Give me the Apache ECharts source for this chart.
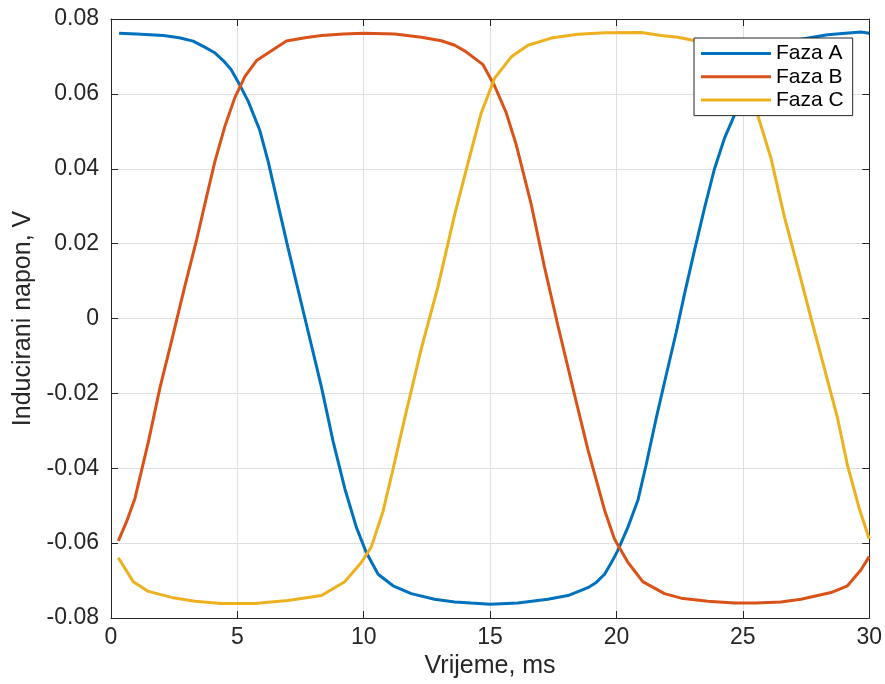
<!DOCTYPE html>
<html>
<head>
<meta charset="utf-8">
<script src="https://cdn.jsdelivr.net/npm/echarts@6/dist/echarts.min.js"></script>
<style>
html,body{margin:0;padding:0;background:#fff;}
#chart{width:885px;height:684px;}
</style>
</head>
<body>
<div id="chart"></div>
<script>
// ---- data (time in ms, voltage in V) ----
const seriesNames = ['Faza A', 'Faza B', 'Faza C'];

const tA = [0.32, 1.0, 2.07, 2.7, 3.25, 3.71, 4.1, 4.44, 4.75, 5.03, 5.43, 5.89, 6.22, 6.61, 7.0, 7.32, 7.74, 8.33, 8.79, 9.25, 9.71, 10.1, 10.57, 11.16, 11.88, 12.8, 13.6, 14.25, 15.0, 16.1, 17.28, 18.08, 18.87, 19.2, 19.53, 19.8, 20.05, 20.45, 20.85, 21.17, 21.57, 21.96, 22.36, 22.69, 23.08, 23.48, 23.87, 24.27, 24.8, 25.2, 25.6, 26.0, 26.6, 27.3, 28.35, 29.67, 30.0];
const vA = [0.0762, 0.0760, 0.0756, 0.0750, 0.0741, 0.0725, 0.0710, 0.0689, 0.0665, 0.0632, 0.0580, 0.0502, 0.0419, 0.0304, 0.0190, 0.0100, -0.0018, -0.0184, -0.0329, -0.0454, -0.0558, -0.0625, -0.0683, -0.0714, -0.0735, -0.0750, -0.0757, -0.0760, -0.0763, -0.0760, -0.0750, -0.0740, -0.0719, -0.0705, -0.0683, -0.0652, -0.0620, -0.0558, -0.0485, -0.0392, -0.0267, -0.0153, -0.0038, 0.0065, 0.0180, 0.0294, 0.0398, 0.0481, 0.0564, 0.0620, 0.0665, 0.0700, 0.0730, 0.0746, 0.0758, 0.0765, 0.0762];

const tB = [0.29, 0.62, 0.95, 1.48, 1.94, 2.40, 2.92, 3.39, 3.78, 4.11, 4.50, 4.90, 5.30, 5.76, 6.35, 6.94, 7.67, 8.33, 9.2, 10.0, 11.23, 12.28, 13.07, 13.6, 13.99, 14.72, 15.18, 15.64, 16.03, 16.63, 17.15, 17.68, 18.27, 18.87, 19.53, 19.92, 20.45, 21.04, 21.9, 22.56, 23.61, 24.66, 25.5, 26.5, 27.3, 27.96, 28.49, 29.14, 29.67, 30.0];
const vB = [-0.0594, -0.0542, -0.0480, -0.0329, -0.0184, -0.0059, 0.0086, 0.0211, 0.0325, 0.0419, 0.0512, 0.0590, 0.0647, 0.0689, 0.0715, 0.0741, 0.0750, 0.0756, 0.0760, 0.0762, 0.0760, 0.0751, 0.0742, 0.0730, 0.0715, 0.0678, 0.0621, 0.0549, 0.0465, 0.0304, 0.0138, -0.0018, -0.0184, -0.0350, -0.0512, -0.0589, -0.0651, -0.0703, -0.0735, -0.0747, -0.0755, -0.0760, -0.0760, -0.0757, -0.0750, -0.0740, -0.0732, -0.0714, -0.0672, -0.0636];

const tC = [0.29, 0.88, 1.48, 2.40, 3.32, 4.37, 5.69, 7.0, 8.33, 9.25, 9.91, 10.3, 10.76, 11.16, 11.62, 12.28, 12.94, 13.6, 14.12, 14.65, 15.18, 15.84, 16.5, 17.42, 18.47, 19.53, 20.98, 21.77, 22.43, 23.02, 23.6, 24.2, 24.8, 25.2, 25.59, 26.11, 26.64, 27.17, 27.69, 28.22, 28.75, 29.14, 29.6, 30.0];
const vC = [-0.0639, -0.0703, -0.0729, -0.0745, -0.0755, -0.0761, -0.0761, -0.0753, -0.0740, -0.0703, -0.0651, -0.0610, -0.0516, -0.0402, -0.0267, -0.0080, 0.0086, 0.0278, 0.0414, 0.0549, 0.0642, 0.0699, 0.0730, 0.0749, 0.0759, 0.0763, 0.0764, 0.0756, 0.0751, 0.0743, 0.0730, 0.0705, 0.0660, 0.0610, 0.0543, 0.0429, 0.0273, 0.0138, 0.0003, -0.0132, -0.0267, -0.0392, -0.0506, -0.0589];

const xTicks = [0, 5, 10, 15, 20, 25, 30];
const yTicks = [-0.08, -0.06, -0.04, -0.02, 0, 0.02, 0.04, 0.06, 0.08];

const colors = ['#0072BD', '#D95319', '#EDB120'];
const FONT = '"Liberation Sans", Arial, Helvetica, sans-serif';
const TXT = '#262626';

const pairs = (t, v) => t.map((x, i) => [x, v[i]]);

const chart = echarts.init(document.getElementById('chart'), null, {renderer: 'canvas'});

const axisCommon = {
  axisLine: {show: true, onZero: false, lineStyle: {color: TXT, width: 1}},
  axisTick: {show: true, inside: true, length: 7, lineStyle: {color: TXT, width: 1}},
};

const option = {
  backgroundColor: '#fff',
  animation: false,
  color: colors,
  textStyle: {fontFamily: FONT},
  grid: {left: 111, right: 15, top: 19, bottom: 64, containLabel: false},
  legend: {
    orient: 'vertical',
    left: 694, top: 38,
    data: seriesNames,
    icon: 'rect',
    backgroundColor: '#fff',
    borderColor: TXT, borderWidth: 1, borderRadius: 0,
    padding: [5, 9, 5, 7],
    itemWidth: 70, itemHeight: 3, itemGap: 2.3,
    textStyle: {fontSize: 21, color: '#000', fontFamily: FONT, lineHeight: 21},
    selectedMode: false
  },
  xAxis: [
    Object.assign({
      type: 'value', min: xTicks[0], max: xTicks[xTicks.length - 1], interval: xTicks[1] - xTicks[0],
      position: 'bottom',
      name: 'Vrijeme, ms', nameLocation: 'middle', nameGap: 36,
      nameTextStyle: {fontSize: 25, color: TXT, fontFamily: FONT},
      axisLabel: {fontSize: 23, color: TXT, margin: 8, fontFamily: FONT},
      splitLine: {show: true, lineStyle: {color: '#dfdfdf', width: 1}}
    }, axisCommon),
    Object.assign({
      type: 'value', min: xTicks[0], max: xTicks[xTicks.length - 1], interval: xTicks[1] - xTicks[0],
      position: 'top',
      axisLabel: {show: false}, splitLine: {show: false}
    }, axisCommon)
  ],
  yAxis: [
    Object.assign({
      type: 'value', min: yTicks[0], max: yTicks[yTicks.length - 1], interval: 0.02,
      position: 'left',
      name: 'Inducirani napon, V', nameLocation: 'middle', nameGap: 73,
      nameTextStyle: {fontSize: 25, color: TXT, fontFamily: FONT},
      axisLabel: {fontSize: 23, color: TXT, margin: 12, fontFamily: FONT,
        formatter: v => String(Math.round(v * 100) / 100)},
      splitLine: {show: true, lineStyle: {color: '#dfdfdf', width: 1}}
    }, axisCommon),
    Object.assign({
      type: 'value', min: yTicks[0], max: yTicks[yTicks.length - 1], interval: 0.02,
      position: 'right',
      axisLabel: {show: false}, splitLine: {show: false}
    }, axisCommon)
  ],
  series: [
    {name: seriesNames[0], type: 'line', data: pairs(tA, vA), showSymbol: false, symbol: 'none', smooth: false,
     lineStyle: {width: 3, color: colors[0]}, itemStyle: {color: colors[0]}},
    {name: seriesNames[1], type: 'line', data: pairs(tB, vB), showSymbol: false, symbol: 'none', smooth: false,
     lineStyle: {width: 3, color: colors[1]}, itemStyle: {color: colors[1]}},
    {name: seriesNames[2], type: 'line', data: pairs(tC, vC), showSymbol: false, symbol: 'none', smooth: false,
     lineStyle: {width: 3, color: colors[2]}, itemStyle: {color: colors[2]}}
  ]
};
chart.setOption(option);
</script>
</body>
</html>
